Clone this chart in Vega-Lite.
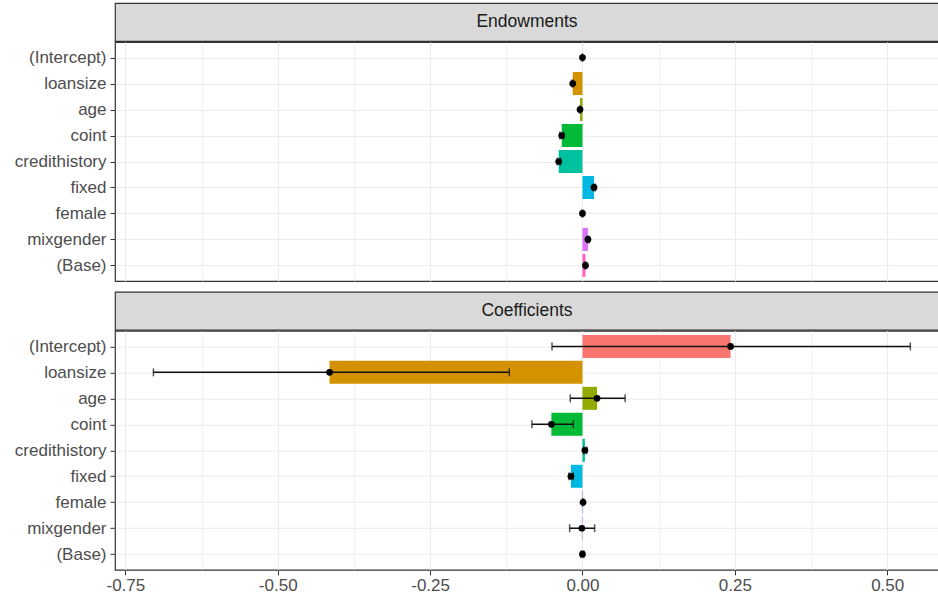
{
  "$schema": "https://vega.github.io/schema/vega-lite/v6.json",
  "padding": {"left": 0, "right": 0, "top": 2, "bottom": 0},
  "background": "white",
  "datasets": {
    "endow": [
      {"var": "(Intercept)", "est": 0.0, "lo": 0.0, "hi": 0.0},
      {"var": "loansize", "est": -0.016, "lo": -0.017, "hi": -0.015},
      {"var": "age", "est": -0.004, "lo": -0.005, "hi": -0.003},
      {"var": "coint", "est": -0.034, "lo": -0.037, "hi": -0.031},
      {"var": "credithistory", "est": -0.039, "lo": -0.041, "hi": -0.036},
      {"var": "fixed", "est": 0.019, "lo": 0.018, "hi": 0.021},
      {"var": "female", "est": 0.0, "lo": -0.001, "hi": 0.001},
      {"var": "mixgender", "est": 0.009, "lo": 0.008, "hi": 0.011},
      {"var": "(Base)", "est": 0.005, "lo": 0.004, "hi": 0.006}
    ],
    "coef": [
      {"var": "(Intercept)", "est": 0.243, "lo": -0.05, "hi": 0.538},
      {"var": "loansize", "est": -0.415, "lo": -0.704, "hi": -0.12},
      {"var": "age", "est": 0.024, "lo": -0.02, "hi": 0.07},
      {"var": "coint", "est": -0.051, "lo": -0.083, "hi": -0.015},
      {"var": "credithistory", "est": 0.004, "lo": 0.002, "hi": 0.007},
      {"var": "fixed", "est": -0.019, "lo": -0.022, "hi": -0.015},
      {"var": "female", "est": 0.001, "lo": 0.0, "hi": 0.002},
      {"var": "mixgender", "est": -0.001, "lo": -0.021, "hi": 0.02},
      {"var": "(Base)", "est": 0.0, "lo": -0.002, "hi": 0.002}
    ]
  },
  "spacing": 8.8,
  "vconcat": [
    {
      "spacing": -1.2,
      "vconcat": [
        {
          "width": 824,
          "height": 38,
          "view": {"fill": "#D9D9D9", "stroke": "#333333", "strokeWidth": 1.2},
          "data": {"values": [{"panel": "Endowments"}]},
          "mark": {"type": "text", "fontSize": 17.5, "color": "#1A1A1A", "font": "Liberation Sans"},
          "encoding": {
            "text": {"field": "panel"},
            "y": {"field": "panel", "type": "nominal", "axis": {"labels": false, "ticks": false, "domain": false, "grid": false, "minExtent": 114, "maxExtent": 114, "title": null}}
          }
        },
        {
          "width": 824,
          "height": 239,
          "view": {"stroke": "#333333", "strokeWidth": 1.2},
          "data": {"name": "endow"},
          "encoding": {
            "y": {"field": "var", "type": "nominal", "sort": null,
              "scale": {"type": "point", "padding": 0.6, "domain": ["(Intercept)", "loansize", "age", "coint", "credithistory", "fixed", "female", "mixgender", "(Base)"]},
              "axis": {"title": null, "domain": false, "tickSize": 5, "tickColor": "#333333", "labelPadding": 4, "labelFontSize": 17, "labelColor": "#4D4D4D", "grid": true, "gridColor": "#EBEBEB", "gridWidth": 1.1, "minExtent": 114, "maxExtent": 114}}
          },
          "layer": [
            {
              "mark": {"type": "bar", "size": 23},
              "encoding": {
                "x": {"field": "est", "type": "quantitative", "scale": {"domain": [-0.767, 0.585], "nice": false, "zero": false},
                  "axis": {"title": null, "labels": false, "ticks": false, "domain": false, "grid": true, "gridColor": "#EBEBEB",
                    "values": [-0.75, -0.625, -0.5, -0.375, -0.25, -0.125, 0, 0.125, 0.25, 0.375, 0.5],
                    "gridWidth": {"condition": {"test": "abs(datum.value*4 - round(datum.value*4)) > 0.01", "value": 0.6}, "value": 1.1}}},
                "x2": {"datum": 0},
                "color": {"field": "var", "type": "nominal", "legend": null,
                  "scale": {"domain": ["(Intercept)", "loansize", "age", "coint", "credithistory", "fixed", "female", "mixgender", "(Base)"],
                    "range": ["#F8766D", "#D39200", "#93AA00", "#00BA38", "#00C19F", "#00B9E3", "#619CFF", "#DB72FB", "#FF61C3"]}}
              }
            },
            {
              "mark": {"type": "rule", "color": "#111111", "strokeDash": [1.6, 1.6], "strokeWidth": 1.4},
              "encoding": {"x": {"datum": 0}}
            },
            {
              "mark": {"type": "errorbar", "color": "#111111", "thickness": 1.5, "ticks": {"size": 8, "color": "#111111"}},
              "encoding": {"x": {"field": "lo", "type": "quantitative"}, "x2": {"field": "hi"}}
            },
            {
              "mark": {"type": "point", "filled": true, "color": "black", "size": 45, "opacity": 1},
              "encoding": {"x": {"field": "est", "type": "quantitative"}}
            }
          ]
        }
      ]
    },
    {
      "spacing": -1.2,
      "vconcat": [
        {
          "width": 824,
          "height": 38,
          "view": {"fill": "#D9D9D9", "stroke": "#333333", "strokeWidth": 1.2},
          "data": {"values": [{"panel": "Coefficients"}]},
          "mark": {"type": "text", "fontSize": 17.5, "color": "#1A1A1A", "font": "Liberation Sans"},
          "encoding": {
            "text": {"field": "panel"},
            "y": {"field": "panel", "type": "nominal", "axis": {"labels": false, "ticks": false, "domain": false, "grid": false, "minExtent": 114, "maxExtent": 114, "title": null}}
          }
        },
        {
          "width": 824,
          "height": 239,
          "view": {"stroke": "#333333", "strokeWidth": 1.2},
          "data": {"name": "coef"},
          "encoding": {
            "y": {"field": "var", "type": "nominal", "sort": null,
              "scale": {"type": "point", "padding": 0.6, "domain": ["(Intercept)", "loansize", "age", "coint", "credithistory", "fixed", "female", "mixgender", "(Base)"]},
              "axis": {"title": null, "domain": false, "tickSize": 5, "tickColor": "#333333", "labelPadding": 4, "labelFontSize": 17, "labelColor": "#4D4D4D", "grid": true, "gridColor": "#EBEBEB", "gridWidth": 1.1, "minExtent": 114, "maxExtent": 114}}
          },
          "layer": [
            {
              "mark": {"type": "bar", "size": 23},
              "encoding": {
                "x": {"field": "est", "type": "quantitative", "scale": {"domain": [-0.767, 0.585], "nice": false, "zero": false},
                  "axis": {"title": null, "domain": false, "grid": true, "gridColor": "#EBEBEB",
                    "values": [-0.75, -0.625, -0.5, -0.375, -0.25, -0.125, 0, 0.125, 0.25, 0.375, 0.5],
                    "gridWidth": {"condition": {"test": "abs(datum.value*4 - round(datum.value*4)) > 0.01", "value": 0.6}, "value": 1.1},
                    "tickOpacity": {"condition": {"test": "abs(datum.value*4 - round(datum.value*4)) > 0.01", "value": 0}, "value": 1},
                    "tickSize": 5, "tickColor": "#333333", "labelPadding": 3, "labelFontSize": 17, "labelColor": "#4D4D4D",
                    "labelExpr": "abs(datum.value*4 - round(datum.value*4)) > 0.01 ? '' : replace(format(datum.value, '.2f'), '\u2212', '-')"}},
                "x2": {"datum": 0},
                "color": {"field": "var", "type": "nominal", "legend": null,
                  "scale": {"domain": ["(Intercept)", "loansize", "age", "coint", "credithistory", "fixed", "female", "mixgender", "(Base)"],
                    "range": ["#F8766D", "#D39200", "#93AA00", "#00BA38", "#00C19F", "#00B9E3", "#619CFF", "#DB72FB", "#FF61C3"]}}
              }
            },
            {
              "mark": {"type": "rule", "color": "#111111", "strokeDash": [1.6, 1.6], "strokeWidth": 1.4},
              "encoding": {"x": {"datum": 0}}
            },
            {
              "mark": {"type": "errorbar", "color": "#111111", "thickness": 1.5, "ticks": {"size": 8, "color": "#111111"}},
              "encoding": {"x": {"field": "lo", "type": "quantitative"}, "x2": {"field": "hi"}}
            },
            {
              "mark": {"type": "point", "filled": true, "color": "black", "size": 45, "opacity": 1},
              "encoding": {"x": {"field": "est", "type": "quantitative"}}
            }
          ]
        }
      ]
    }
  ],
  "config": {
    "font": "Liberation Sans",
    "axis": {"labelFont": "Liberation Sans"}
  }
}
